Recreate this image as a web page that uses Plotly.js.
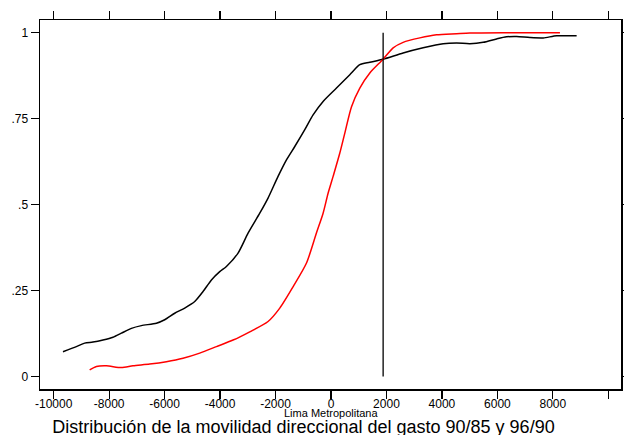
<!DOCTYPE html>
<html>
<head>
<meta charset="utf-8">
<script src="https://cdn.plot.ly/plotly-3.0.1.min.js"></script>
<style>html,body{margin:0;padding:0;background:#fff;}#chart{width:624px;height:435px;}</style>
</head>
<body>
<div id="chart"></div>
<script>
// Black curve (90/85)
const blackX = [-9666,-9183,-8883,-8584,-8223,-7862,-7559,-7198,-6838,-6296,-5997,-5636,-5275,-4914,-4615,-4312,-4012,-3771,-3352,-2991,-2569,-2270,-1909,-1606,-1306,-945,-646,-285,198,678,1039,1400,1880,2601,3323,4045,4528,5008,5488,5972,6332,6693,7173,7653,8136,8858];
const blackY = [0.072,0.087,0.097,0.100,0.106,0.114,0.126,0.140,0.148,0.155,0.165,0.184,0.199,0.218,0.247,0.281,0.305,0.320,0.359,0.417,0.475,0.519,0.582,0.630,0.669,0.718,0.761,0.800,0.839,0.878,0.907,0.914,0.923,0.941,0.956,0.968,0.970,0.968,0.972,0.982,0.988,0.989,0.986,0.985,0.991,0.991];
// Red curve (96/90)
const redX = [-8703,-8461,-8100,-7559,-7141,-6538,-5936,-5336,-4734,-4131,-3532,-2930,-2270,-1847,-1368,-884,-523,-285,-105,76,318,498,740,1039,1400,1880,2241,2601,3204,3807,4528,5008,6210,7415,8256];
const redY = [0.019,0.029,0.031,0.026,0.031,0.036,0.043,0.053,0.068,0.087,0.106,0.130,0.160,0.199,0.261,0.330,0.418,0.475,0.533,0.582,0.650,0.708,0.785,0.839,0.883,0.923,0.956,0.972,0.985,0.994,0.997,0.999,1.000,1.000,1.000];
// Vertical reference line
const vlineX = [1880, 1880];
const vlineY = [0, 1];
// Tick labels
const xTickVals = [-10000,-8000,-6000,-4000,-2000,0,2000,4000,6000,8000,10000];
const xTickText = ["-10000","-8000","-6000","-4000","-2000","0","2000","4000","6000","8000","10000"];
const yTickVals = [0,0.25,0.5,0.75,1];
const yTickText = ["0",".25",".5",".75","1"];

const FONT = "'Liberation Sans', Arial, Helvetica, sans-serif";

const traces = [
  {x: blackX, y: blackY, mode: 'lines', line: {color: '#000000', width: 1.5, shape: 'spline', smoothing: 0.7}, hoverinfo: 'skip'},
  {x: redX, y: redY, mode: 'lines', line: {color: '#ff0000', width: 1.5, shape: 'spline', smoothing: 0.7}, hoverinfo: 'skip'},
  {x: vlineX, y: vlineY, mode: 'lines', line: {color: '#000000', width: 1.3}, hoverinfo: 'skip'}
];

const layout = {
  width: 624, height: 435,
  margin: {l: 40, r: 3, t: 20, b: 46, pad: 0},
  paper_bgcolor: '#ffffff', plot_bgcolor: '#ffffff',
  showlegend: false,
  font: {family: FONT, color: '#000000', size: 12},
  title: {
    text: 'Distribución de la movilidad direccional del gasto 90/85 y 96/90',
    font: {family: FONT, size: 18, color: '#000000'},
    xref: 'container', yref: 'container', x: 0.4864, y: 0.019, xanchor: 'center', yanchor: 'middle'
  },
  annotations: [{
    text: 'Lima Metropolitana', xref: 'paper', yref: 'paper', x: 0.5, y: 0,
    xanchor: 'center', yanchor: 'middle', yshift: -24, showarrow: false,
    font: {family: FONT, size: 11, color: '#000'}
  }],
  xaxis: {
    range: [-10494, 10458], autorange: false,
    tickvals: xTickVals, ticktext: xTickText,
    ticks: 'outside', ticklen: 8, tickwidth: 1.3, tickcolor: '#000',
    ticklabelstandoff: -5,
    showline: true, linecolor: '#000', linewidth: 1.5, mirror: 'ticks',
    showgrid: false, zeroline: false,
    tickfont: {family: FONT, size: 12, color: '#000'}
  },
  yaxis: {
    range: [-0.0364, 1.037], autorange: false,
    tickvals: yTickVals, ticktext: yTickText,
    ticks: 'outside', ticklen: 8, tickwidth: 1.3, tickcolor: '#000',
    showline: true, linecolor: '#000', linewidth: 1.5, mirror: 'ticks',
    showgrid: false, zeroline: false,
    tickfont: {family: FONT, size: 12, color: '#000'}
  }
};

Plotly.newPlot('chart', traces, layout, {displayModeBar: false, staticPlot: true});
</script>
</body>
</html>
